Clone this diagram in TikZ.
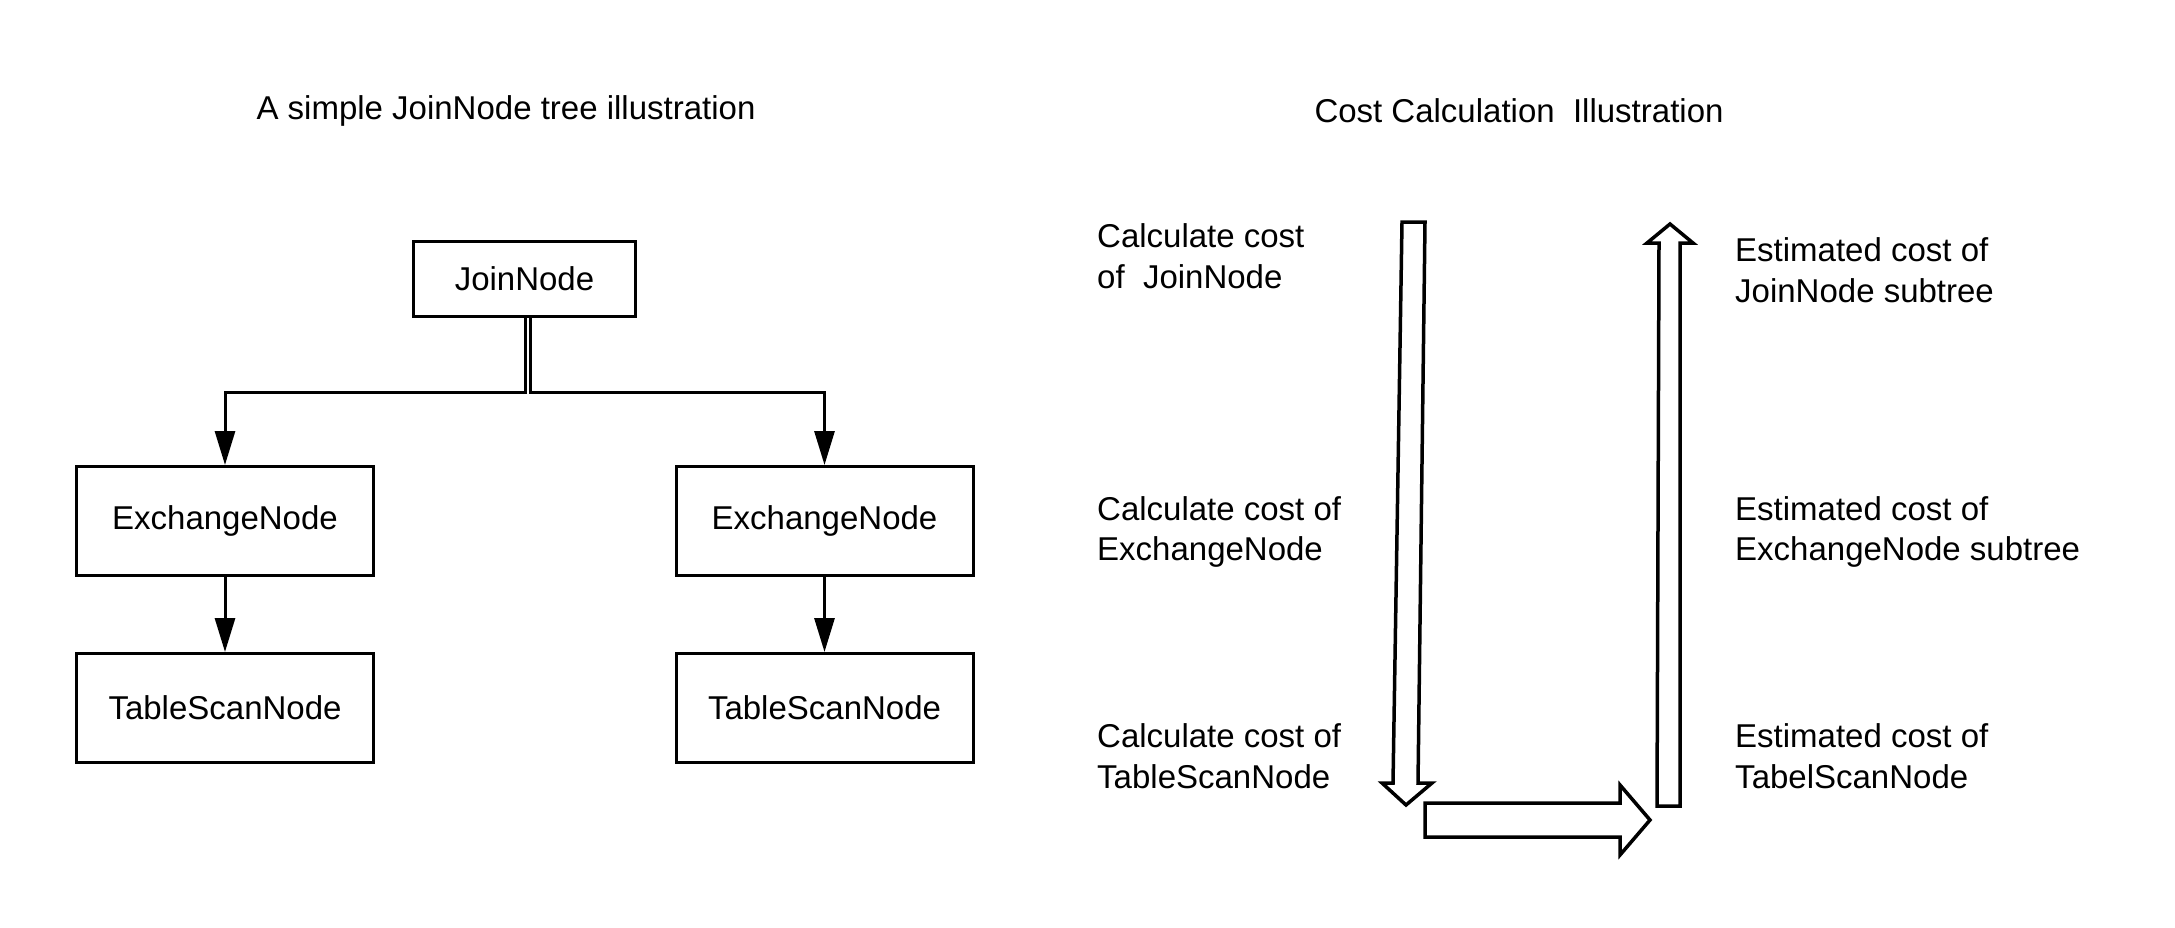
\documentclass[tikz,border=0pt]{standalone}
\usepackage{fontspec}
\setmainfont{Liberation Sans}
\usetikzlibrary{arrows.meta}
\begin{document}
\begin{tikzpicture}[x=1pt,y=-1pt,
  txt/.style={inner sep=0pt, font=\fontsize{33}{40.5}\selectfont},
  box/.style={txt, draw, line width=3pt, minimum width=297pt, minimum height=109pt},
  lbl/.style={txt, anchor=west, align=left},
  conn/.style={line width=3pt, -{Triangle[length=34pt,width=20pt]}},
  hollow/.style={draw, line width=3.5pt, fill=white, line join=miter}]
\useasboundingbox[fill=white] (0,0) rectangle (2175,928);

% titles
\node[txt] (t1) at (506,111) {A simple JoinNode tree illustration};
\node[txt] (t2) at (1519,111) {Cost Calculation~~Illustration};

% tree
\node[box, minimum width=222pt, minimum height=75pt] (join) at (524.5,279) {JoinNode};
\node[box] (ex1) at (225,521) {ExchangeNode};
\node[box] (ts1) at (225,708) {TableScanNode};
\node[box] (ex2) at (824.5,521) {ExchangeNode};
\node[box] (ts2) at (824.5,708) {TableScanNode};

\draw[conn] ([xshift=0.5pt]join.south) -- ++(0,74) -| (ex1.north);
\draw[conn] ([xshift=5.5pt]join.south) -- ++(0,74) -| (ex2.north);
\draw[conn] (ex1.south) -- (ts1.north);
\draw[conn] (ex2.south) -- (ts2.north);

% cost labels
\node[lbl] (c1) at (1097,256) {Calculate cost\\of~~JoinNode};
\node[lbl] (c2) at (1097,532) {Calculate cost of\\ExchangeNode};
\node[lbl] (c3) at (1097,756) {Calculate cost of\\TableScanNode};
\node[lbl] (e1) at (1735,270) {Estimated cost of\\JoinNode subtree};
\node[lbl] (e2) at (1735,532) {Estimated cost of\\ExchangeNode subtree};
\node[lbl] (e3) at (1735,756) {Estimated cost of\\TabelScanNode};

% hollow arrows
\draw[hollow] (1402,222) -- (1425,222) -- (1418,783) -- (1432,783) -- (1406,805)
  -- (1382,783) -- (1393,783) -- cycle;
\draw[hollow] (1425,803) -- (1620,803) -- (1620,785) -- (1650,820) -- (1620,855)
  -- (1620,837) -- (1425,837) -- cycle;
\draw[hollow] (1657,806) -- (1680,806) -- (1680,243) -- (1693,243) -- (1670,224)
  -- (1647,243) -- (1659,243) -- cycle;
\end{tikzpicture}
\end{document}
